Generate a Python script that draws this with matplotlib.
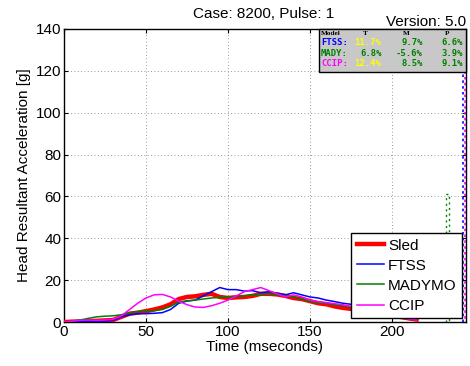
import numpy as np
import matplotlib
matplotlib.use("Agg")
import matplotlib.pyplot as plt
from matplotlib.patches import Rectangle

plt.rcParams["font.family"] = ["Liberation Sans", "DejaVu Sans"]

# ---- data ----
time_ms = list(range(0, 220, 5))
sled = [0, 0.2, 0.3, 0.5, 0.6, 0.8, 1.0, 2.5, 4.0, 4.5, 5.2, 6.0, 7.0, 8.5, 11.0, 12.0,
        12.3, 13.0, 13.5, 12.0, 11.5, 11.8, 12.0, 12.5, 13.5, 13.5, 13.2, 12.5, 11.5, 11.0,
        10.0, 9.0, 8.5, 7.5, 6.8, 6.3, 5.5, 5.0, 4.5, 4.0, 3.2, 2.5, 1.8, 1.2]
ftss = [0, 0.2, 0.3, 0.3, 0.4, 0.5, 0.8, 2.5, 3.5, 4.0, 4.0, 4.2, 4.5, 6.0, 9.0, 10.0,
        10.5, 12.5, 14.5, 16.5, 15.5, 15.5, 14.8, 15.0, 14.0, 14.5, 13.8, 13.0, 14.0, 13.0,
        12.0, 11.5, 10.5, 9.8, 9.0, 8.5, 7.5, 6.5, 5.5, 4.5, 3.5, 2.5, 1.8, 1.2]
madymo = [0, 0.5, 1.0, 1.8, 2.5, 2.8, 3.0, 3.5, 4.5, 5.0, 5.2, 5.5, 6.0, 7.5, 9.5, 10.2,
          10.5, 11.0, 11.5, 11.8, 12.0, 12.3, 12.5, 13.0, 13.2, 13.5, 13.0, 12.5, 12.0, 11.0,
          9.8, 9.3, 9.0, 8.3, 7.8, 7.3, 6.5, 5.5, 4.5, 3.5, 2.8, 2.0, 1.5, 1.0]
ccip = [0, 0.5, 0.8, 1.0, 0.8, 1.0, 1.3, 3.0, 6.0, 9.0, 11.5, 13.0, 13.2, 12.0, 10.0, 8.3,
        7.2, 7.0, 7.8, 9.0, 10.5, 12.5, 14.5, 15.5, 16.5, 15.0, 13.5, 12.0, 13.0, 12.0,
        10.5, 9.8, 9.3, 8.8, 8.3, 7.5, 6.5, 5.5, 4.5, 3.5, 2.8, 2.0, 1.5, 1.0]

# late-time oscillating tails (drawn dotted)
mady_tail_t = [233, 233, 235, 235]
mady_tail = [0, 61, 61, 0]
ftss_tail_t = [243.6, 243.6]
ftss_tail = [0, 200]
ccip_tail_t = [244.6, 244.6]
ccip_tail = [0, 150]

series_names = ["Sled", "FTSS", "MADYMO", "CCIP"]
table_header = ["Model", "T", "M", "P"]
table_models = ["FTSS:", "MADY:", "CCIP:"]
table_values = [["11.7%", "9.7%", "6.6%"],
                ["6.8%", "-5.6%", "3.9%"],
                ["12.4%", "8.5%", "9.1%"]]

RED = "#ff0000"
BLUE = "#0000ff"
GREEN = "#008000"
MAG = "#ff00ff"
YEL = "#ffff00"

FS = 11

fig = plt.figure(figsize=(4.7, 3.66), dpi=100)
ax = fig.add_axes([0.136, 0.120, 0.855, 0.801])

ax.plot(time_ms, sled, color=RED, lw=3.2, label=series_names[0], zorder=3)
ax.plot(time_ms, ftss, color=BLUE, lw=1.1, label=series_names[1], zorder=4)
ax.plot(time_ms, madymo, color=GREEN, lw=1.1, label=series_names[2], zorder=4)
ax.plot(time_ms, ccip, color=MAG, lw=1.1, label=series_names[3], zorder=5)

ax.plot(mady_tail_t, mady_tail, color=GREEN, lw=1.0, ls=(0, (1.5, 2.5)), zorder=2)
ax.plot(ftss_tail_t, ftss_tail, color=BLUE, lw=1.2, ls=(0, (1.5, 2)), zorder=2)
ax.plot(ccip_tail_t, ccip_tail, color=MAG, lw=1.2, ls=(1.5, (1.5, 2)), zorder=2)

ax.set_xlim(0, 245)
ax.set_ylim(0, 140)
ax.set_xticks([0, 50, 100, 150, 200])
ax.set_yticks([0, 20, 40, 60, 80, 100, 120, 140])
ax.tick_params(direction="in", top=True, right=True, labelsize=FS, length=3, pad=2)
ax.grid(True, color="#777777", ls=(0, (1, 3)), lw=0.6)
for s in ax.spines.values():
    s.set_linewidth(1.0)

ax.set_xlabel("Time (mseconds)", fontsize=FS, labelpad=1)
ax.set_ylabel("Head Resultant Acceleration [g]", fontsize=FS, labelpad=3)

fig.text(0.56, 0.962, "Case: 8200, Pulse: 1", ha="center", va="center", fontsize=FS)
fig.text(0.992, 0.940, "Version: 5.0", ha="right", va="center", fontsize=FS)

leg = ax.legend(loc="lower right", fontsize=FS, frameon=True, fancybox=False,
                edgecolor="black", framealpha=1.0, borderaxespad=0.25,
                handlelength=1.8, handletextpad=0.25, labelspacing=0.4, borderpad=0.35)
leg.get_frame().set_linewidth(1.0)
leg.set_zorder(10)

# stats table
x0, y0 = 0.634, 0.853
ax.add_patch(Rectangle((x0, y0), 1.0 - x0, 1.0 - y0, transform=ax.transAxes,
                       facecolor="#c8c8c8", edgecolor="black", lw=1.0, zorder=11,
                       clip_on=False))
mono = dict(family="DejaVu Sans Mono", fontsize=6.4, fontweight="bold", zorder=12,
            transform=ax.transAxes, va="center")
hdr = dict(family="Liberation Serif", fontsize=5.2, fontweight="bold", zorder=12,
           transform=ax.transAxes, va="center")
rows_y = [0.986, 0.953, 0.917, 0.882]
col_x = [0.640, 0.790, 0.893, 0.993]
ax.text(col_x[0], rows_y[0], table_header[0], ha="left", color="black", **hdr)
for j, h in enumerate(table_header[1:], start=1):
    ax.text(col_x[j] - 0.04, rows_y[0], h, ha="center", color="black", **hdr)
model_colors = [BLUE, GREEN, MAG]
val_colors = [[YEL, GREEN, GREEN], [GREEN, GREEN, GREEN], [YEL, GREEN, GREEN]]
for i, m in enumerate(table_models):
    ax.text(col_x[0], rows_y[i + 1], m, ha="left", color=model_colors[i], **mono)
    for j, v in enumerate(table_values[i]):
        ax.text(col_x[j + 1], rows_y[i + 1], v, ha="right", color=val_colors[i][j], **mono)

fig.savefig("out.png", dpi=100)
